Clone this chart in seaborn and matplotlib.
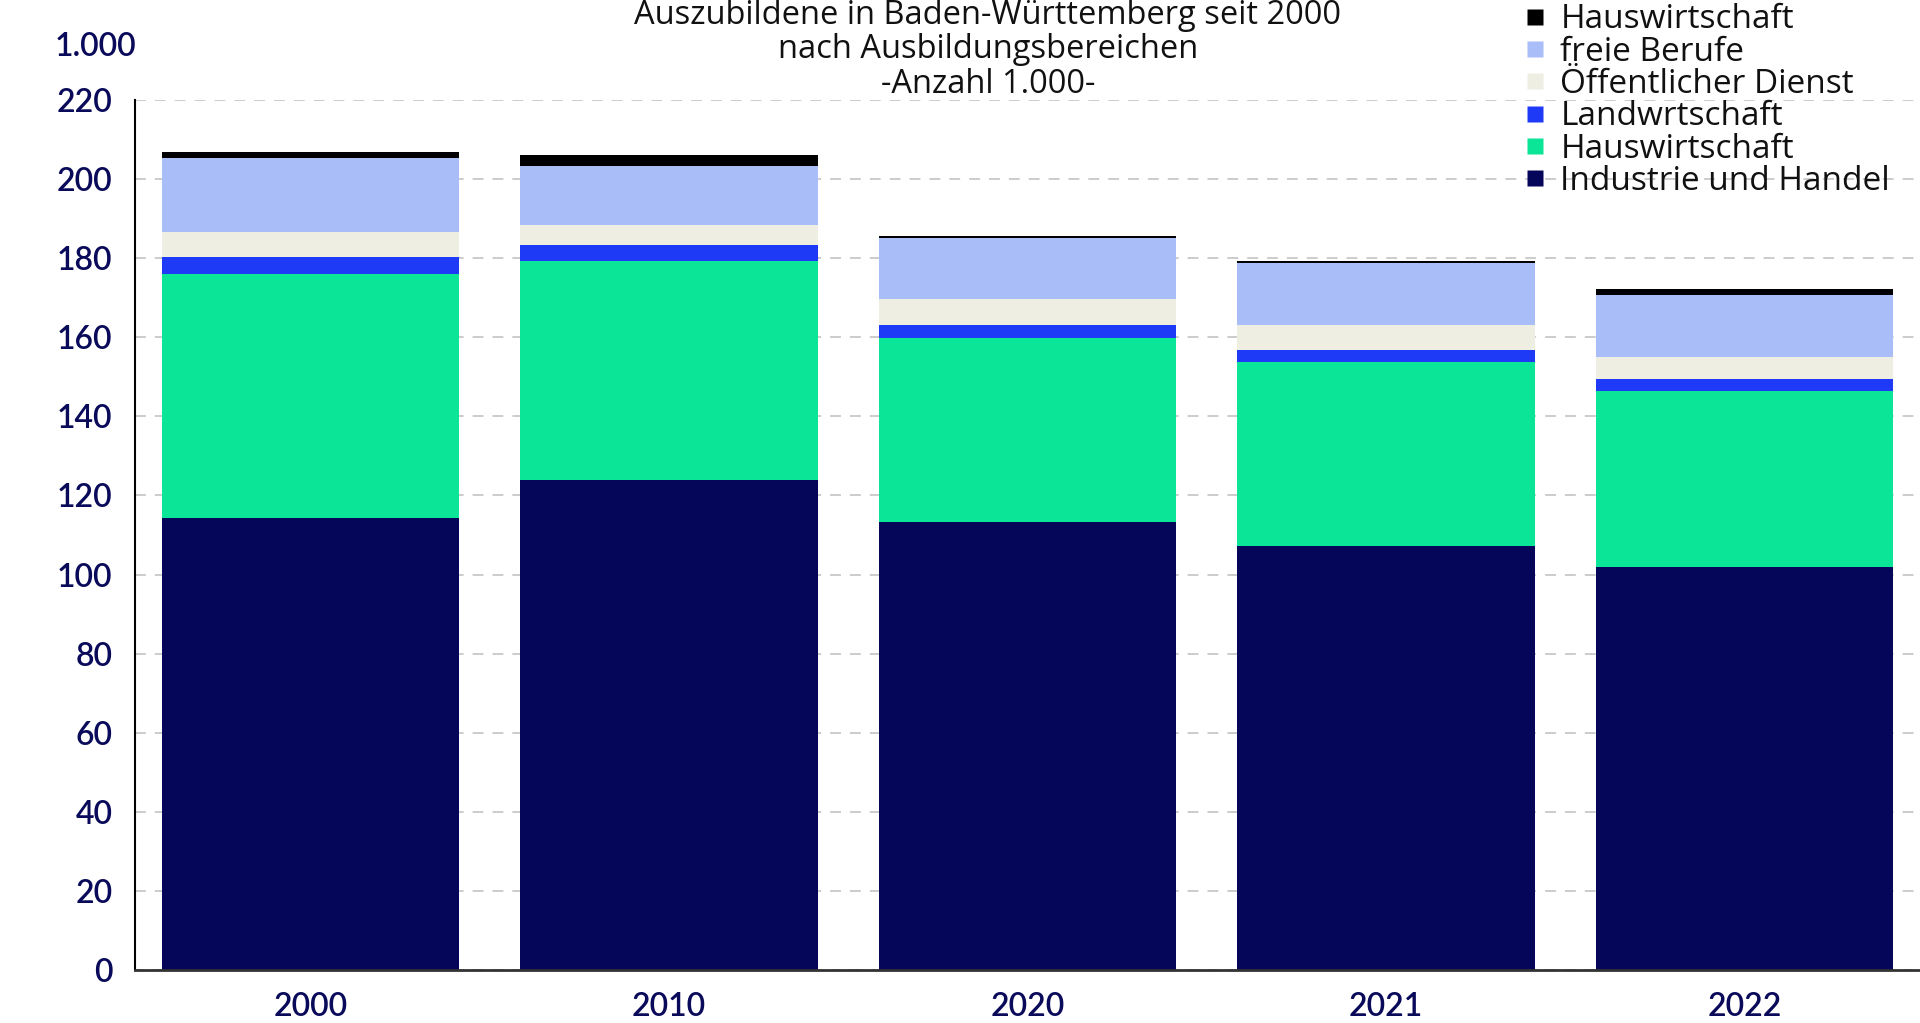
import matplotlib
matplotlib.use("Agg")
import matplotlib.pyplot as plt
from matplotlib.lines import Line2D
import numpy as np
import pandas as pd
import seaborn as sns

# data (Anzahl in 1.000)
jahre = ["2000", "2010", "2020", "2021", "2022"]
industrie_handel = [114.4, 124.0, 113.2, 107.2, 101.9]
handwerk = [61.7, 55.4, 46.5, 46.5, 44.5]      # labelled "Hauswirtschaft" in the legend
landwirtschaft = [4.1, 4.0, 3.3, 3.2, 3.1]
oeffentlicher_dienst = [6.4, 5.1, 6.6, 6.1, 5.5]
freie_berufe = [18.7, 14.9, 15.6, 15.8, 15.7]
hauswirtschaft = [1.6, 2.7, 0.4, 0.5, 1.4]

serien = [
    ("Industrie und Handel", industrie_handel, "#050559"),
    ("Hauswirtschaft", handwerk, "#0be598"),
    ("Landwrtschaft", landwirtschaft, "#1e3af7"),
    ("Öffentlicher Dienst", oeffentlicher_dienst, "#eeeee2"),
    ("freie Berufe", freie_berufe, "#a9bdf9"),
    ("Hauswirtschaft", hauswirtschaft, "#000000"),
]

navy = "#0a0a5a"
sns.set_theme(style="white")
plt.rcParams["font.family"] = ["Lato", "DejaVu Sans"]

fig = plt.figure(figsize=(19.2, 10.23), dpi=100)
ax = fig.add_axes([134.7 / 1920, 1 - 970 / 1023, 1 - 134.7 / 1920, 870 / 1023])

# stacked bars: draw cumulative totals from the top layer down
cum = np.cumsum(np.array([s[1] for s in serien]), axis=0)
for i in range(len(serien) - 1, -1, -1):
    df = pd.DataFrame({"Jahr": jahre, "Wert": cum[i]})
    sns.barplot(data=df, x="Jahr", y="Wert", color=serien[i][2], width=0.83,
                saturation=1, linewidth=0, ax=ax, zorder=2)

ax.set_ylim(0, 220)
ax.set_xlim(-0.49, 4.49)
ax.set_yticks(range(0, 221, 20))
ax.yaxis.grid(True, linestyle=(0, (6, 5)), color="#c8c8c8", linewidth=1.3, zorder=0)
ax.set_axisbelow(True)
ax.set_xlabel("")
ax.set_ylabel("")
for s in ["top", "right"]:
    ax.spines[s].set_visible(False)
ax.spines["left"].set_color("black")
ax.spines["left"].set_linewidth(1.5)
ax.spines["bottom"].set_color("#333333")
ax.spines["bottom"].set_linewidth(2)
ax.tick_params(axis="y", length=0, pad=16, labelsize=23, labelcolor=navy)
ax.tick_params(axis="x", length=0, pad=16, labelsize=23, labelcolor=navy)
for lab in ax.get_xticklabels() + ax.get_yticklabels():
    lab.set_fontweight("semibold")

fig.text(55 / 1920, 1 - 47 / 1023, "1.000", fontsize=23, color=navy,
         fontweight="semibold", ha="left", va="center")

fig.text(988 / 1920, 1 - 50 / 1023,
         "Auszubildene in Baden-Württemberg seit 2000\nnach Ausbildungsbereichen\n-Anzahl 1.000-",
         fontsize=23.5, color="#111111", ha="center", va="center", linespacing=1.05,
         family=["Open Sans", "DejaVu Sans"])

handles = [Line2D([0], [0], marker="s", linestyle="none", markersize=11,
                  markerfacecolor=c, markeredgecolor="none") for _, _, c in serien[::-1]]
labels = [n for n, _, _ in serien[::-1]]
fig.legend(handles, labels, loc="upper left", bbox_to_anchor=(1512 / 1920, 1 + 10 / 1023),
           frameon=False, handlelength=0.6, handletextpad=0.45,
           labelspacing=-0.02, borderaxespad=0, labelcolor="#111111",
           prop={"family": ["Open Sans", "DejaVu Sans"], "size": 24})

fig.savefig("out.png", dpi=100)
